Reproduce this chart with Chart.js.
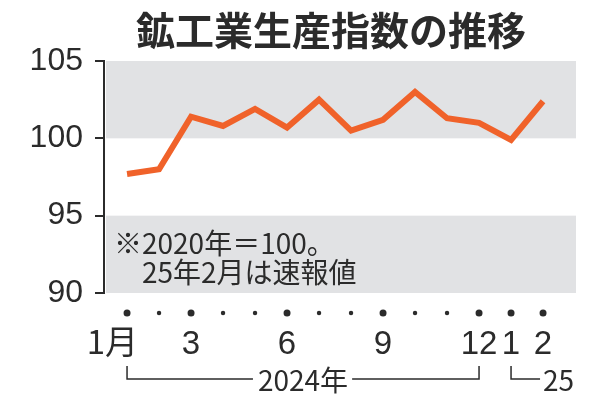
<!DOCTYPE html>
<html>
<head>
<meta charset="utf-8">
<script src="https://cdn.jsdelivr.net/npm/chart.js@4"></script>
<style>
  html, body { margin: 0; padding: 0; background: #fff; }
  #wrap { width: 600px; height: 400px; }
</style>
</head>
<body>
<div id="wrap"><canvas id="ipChart" width="600" height="400"></canvas></div>
<script>
const months = [1, 2, 3, 4, 5, 6, 7, 8, 9, 10, 11, 12, 13, 14];
const monthLabels = ['1月', '', '3', '', '', '6', '', '', '9', '', '', '12', '1', '2'];
const indexValues = [97.7, 98.0, 101.4, 100.8, 101.9, 100.7, 102.5, 100.5, 101.2, 103.0, 101.3, 101.0, 99.9, 102.4];
const bands = [[100, 105], [90, 95]];
const yTicks = [90, 95, 100, 105];
const titleText = '鉱工業生産指数の推移';
const noteLines = ['※2020年＝100。', '25年2月は速報値'];
const yearGroups = [
  { label: '2024年', from: 1, to: 12 },
  { label: '25', from: 13, to: 14 }
];

const JP = '"Noto Sans CJK JP", "Noto Sans", sans-serif';
const NUM = '"Liberation Sans", Arial, sans-serif';
const INK = '#2b2b2b';

const bandPlugin = {
  id: 'bands',
  beforeDatasetsDraw(chart) {
    const { ctx, chartArea, scales: { y } } = chart;
    ctx.save();
    ctx.fillStyle = '#e1e2e4';
    bands.forEach(([lo, hi]) => {
      const top = y.getPixelForValue(hi);
      const bot = y.getPixelForValue(lo);
      ctx.fillRect(chartArea.left + 2, top, chartArea.right - chartArea.left - 2, bot - top);
    });
    // note inside the lower band
    ctx.fillStyle = INK;
    ctx.font = '28px ' + JP;
    ctx.textAlign = 'left';
    ctx.textBaseline = 'alphabetic';
    ctx.fillText(noteLines[0], chartArea.left + 10, 254);
    ctx.fillText(noteLines[1], chartArea.left + 38, 283);
    ctx.restore();
  }
};

const extrasPlugin = {
  id: 'extras',
  afterDraw(chart) {
    const { ctx, scales: { x } } = chart;
    ctx.save();
    ctx.fillStyle = INK;
    ctx.font = 'bold 39px ' + JP;
    ctx.textAlign = 'center';
    ctx.textBaseline = 'alphabetic';
    ctx.fillText(titleText, 331, 45);

    // month dots + labels
    months.forEach((m, i) => {
      const px = x.getPixelForValue(m);
      const big = monthLabels[i] !== '';
      ctx.beginPath();
      ctx.arc(px, 313, big ? 3.5 : 2.2, 0, Math.PI * 2);
      ctx.fill();
      if (!big) return;
      const lab = monthLabels[i];
      if (lab.endsWith('月')) {
        ctx.font = '33px ' + JP;
        ctx.textAlign = 'right';
        ctx.fillText(lab, px + 11, 354);
      } else {
        ctx.font = '33px ' + NUM;
        ctx.textAlign = 'center';
        ctx.fillText(lab, px, 354);
      }
    });

    // year brackets
    ctx.strokeStyle = INK;
    ctx.lineWidth = 1.5;
    ctx.font = '28px ' + JP;
    yearGroups.forEach((g, gi) => {
      const x0 = x.getPixelForValue(g.from);
      const x1 = x.getPixelForValue(g.to);
      const yTop = 366, yLine = 379;
      if (gi === 0) {
        const tw = ctx.measureText(g.label).width;
        const cx = (x0 + x1) / 2;
        ctx.beginPath();
        ctx.moveTo(x0, yTop); ctx.lineTo(x0, yLine); ctx.lineTo(cx - tw / 2 - 5, yLine);
        ctx.moveTo(cx + tw / 2 + 4, yLine); ctx.lineTo(x1, yLine); ctx.lineTo(x1, yTop);
        ctx.stroke();
        ctx.textAlign = 'center';
        ctx.fillText(g.label, cx, 391);
      } else {
        ctx.beginPath();
        ctx.moveTo(x0, yTop); ctx.lineTo(x0, yLine); ctx.lineTo(x1 - 3, yLine);
        ctx.stroke();
        ctx.textAlign = 'left';
        ctx.fillText(g.label, x1, 391);
      }
    });
    ctx.restore();
  }
};

new Chart(document.getElementById('ipChart'), {
  type: 'line',
  data: {
    datasets: [{
      data: months.map((m, i) => ({ x: m, y: indexValues[i] })),
      borderColor: '#f0622a',
      borderWidth: 6,
      borderJoinStyle: 'miter',
      pointRadius: 0,
      tension: 0
    }]
  },
  options: {
    responsive: false,
    animation: false,
    devicePixelRatio: 1,
    layout: { padding: { left: 0, right: 24, top: 61, bottom: 107 } },
    plugins: { legend: { display: false }, tooltip: { enabled: false } },
    scales: {
      x: { type: 'linear', min: 0.28, max: 15.03, display: false },
      y: {
        min: 90,
        max: 105,
        afterFit: s => { s.width = 104; },
        afterBuildTicks: s => { s.ticks = yTicks.map(v => ({ value: v })); },
        grid: { drawOnChartArea: false, tickLength: 9, color: INK, lineWidth: 2 },
        border: { color: INK, width: 2 },
        ticks: { color: INK, padding: 12, font: { family: NUM, size: 32 } }
      }
    }
  },
  plugins: [bandPlugin, extrasPlugin]
});
</script>
</body>
</html>
